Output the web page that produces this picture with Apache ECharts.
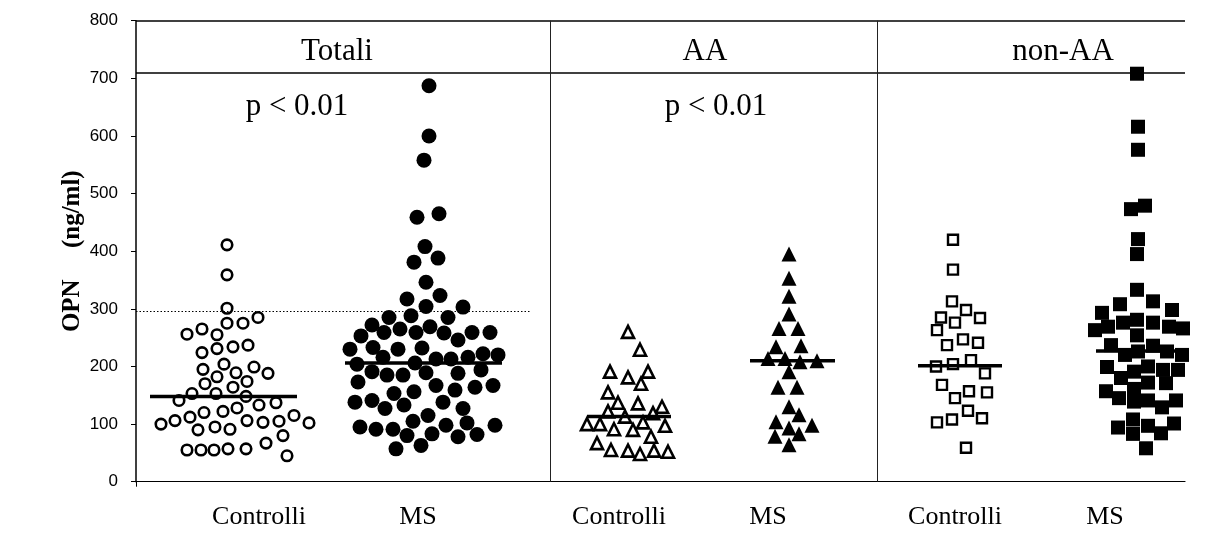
<!DOCTYPE html>
<html><head><meta charset="utf-8">
<script src="https://cdn.jsdelivr.net/npm/echarts@6/dist/echarts.min.js"></script>
<style>html,body{margin:0;padding:0;background:#fff}#c{width:1224px;height:545px}</style>
</head><body><div id="c"></div>
<script>
// ---------- data ----------
const groupLabels = ['Controlli', 'MS', 'Controlli', 'MS', 'Controlli', 'MS'];
const panelLabels = ['Totali', 'AA', 'non-AA'];
const pLabels = ['p < 0.01', 'p < 0.01'];
const yTickValues = [0, 100, 200, 300, 400, 500, 600, 700, 800];
const yTitle = 'OPN     (ng/ml)';

// Totali – Controlli (values and horizontal jitter offsets)
const ctrlTotVal = [411,359,301,275,275,285,256,265,255,224,231,234,237,195,204,182,189,199,188,170,164,174,153,153,141,148,133,137,120,122,128,100,106,112,90,95,91,106,103,105,115,102,80,67,55,55,55,57,57,45];
const ctrlTotJit = [-10,-10,-10,-10,6,21,-50,-35,-20,-35,-20,-4,11,-34,-13,-20,-1,17,31,-32,-4,10,-45,-21,-58,9,22,39,-33,-14,0,-76,-62,-47,-39,-22,-7,10,26,42,57,72,46,29,-50,-36,-23,-9,9,50];
// Totali – MS
const msTotVal = [687,600,558,459,465,408,381,388,346,317,323,304,303,288,285,285,272,253,259,265,259,269,258,246,259,259,230,233,230,232,204,216,206,213,213,216,222,220,191,185,185,189,188,194,173,153,156,167,159,164,167,138,141,127,133,138,127,115,105,95,91,91,98,102,98,80,83,78,82,57,63];
const msTotJit = [4,4,-1,-8,14,0,-11,13,1,-18,15,1,38,-14,-36,23,-53,-64,-41,-25,-9,5,19,33,47,65,-75,-52,-27,-3,-68,-42,-10,11,26,43,58,73,-53,-38,-22,1,33,56,-67,-31,-11,11,30,50,68,-70,-53,-40,-21,18,38,3,-12,-65,-49,-32,21,42,70,-18,7,33,52,-29,-4];
// AA – Controlli
const ctrlAAVal = [260,229,191,181,191,170,155,137,136,130,122,113,119,100,100,103,97,91,90,78,67,55,54,48,54,52];
const ctrlAAJit = [1,13,-17,1,21,14,-19,-9,11,35,-19,-2,26,-40,-27,16,38,-13,6,24,-30,-16,1,13,27,41];
// AA – MS
const msAAVal = [395,353,322,291,266,266,234,236,214,214,208,210,191,164,164,130,116,104,98,93,79,83,64];
const msAAJit = [0,0,0,0,-10,9,-13,12,-21,-4,11,28,0,-11,8,0,10,-13,23,0,-14,10,0];
// non-AA – Controlli
const ctrlNonVal = [420,368,313,298,285,284,276,263,247,241,237,211,200,204,188,168,157,155,145,123,108,103,110,59];
const ctrlNonJit = [-6,-6,-7,7,-18,21,-4,-22,4,19,-12,12,-23,-6,26,-17,10,28,-4,9,-7,-22,23,7];
// non-AA – MS
const msNonVal = [708,616,576,473,479,421,395,333,308,313,293,298,269,276,281,276,269,263,266,254,237,236,220,226,226,220,199,191,200,194,194,180,172,171,157,161,145,139,141,129,141,108,94,97,83,84,101,58];
const msNonJit = [-1,0,0,-7,7,0,-1,-1,-18,15,-36,34,-30,-15,-1,15,31,-43,45,-1,-27,15,-13,0,29,44,-31,-4,10,25,40,-17,10,28,-32,-4,-19,-4,10,24,38,-5,-20,10,-5,23,36,8];

const medians = [148, 206, 113, 210, 201, 227];
const cutoffValue = 295;

// ---------- layout / style constants ----------
const groupCenters = [101, 289, 491, 653, 823, 1002];   // x-axis units
const labelCenters = [123, 282, 483, 632, 819, 969];
const medianExtent = [[-87,60],[-80,77],[-40,44],[-39,46],[-41,43],[-42,47]];
const dividers = [414, 741];
const headerLine = 710;
const cutoffEnd = 394;
const panelTextPos = [[201, 746], [569, 746], [927, 746]];
const pTextPos = [[161, 650], [580, 650]];
const XMAX = 1049;

const serif = 'Liberation Serif';
const sans = 'Liberation Sans';

const groupsVal = [ctrlTotVal, msTotVal, ctrlAAVal, msAAVal, ctrlNonVal, msNonVal];
const groupsJit = [ctrlTotJit, msTotJit, ctrlAAJit, msAAJit, ctrlNonJit, msNonJit];
const symStyles = [
  {symbol:'circle', size:10.5, fill:'#fff', bw:2.6},
  {symbol:'circle', size:15, fill:'#000', bw:0},
  {symbol:'triangle', size:12, fill:'#fff', bw:2.6},
  {symbol:'triangle', size:15, fill:'#000', bw:0},
  {symbol:'rect', size:10, fill:'#fff', bw:2.4},
  {symbol:'rect', size:14, fill:'#000', bw:0}
];

const series = [];
groupsVal.forEach((vals, g) => {
  const st = symStyles[g];
  series.push({
    type: 'scatter', clip: false, silent: true, z: 3,
    symbol: st.symbol, symbolSize: st.size,
    itemStyle: {color: st.fill, borderColor: '#000', borderWidth: st.bw, opacity: 1},
    data: vals.map((v, i) => [groupCenters[g] + groupsJit[g][i], v])
  });
});
// median lines
medians.forEach((m, g) => {
  series.push({
    type: 'line', silent: true, symbol: 'none', z: 4,
    lineStyle: {color: '#000', width: 3.5},
    data: [[groupCenters[g] + medianExtent[g][0], m], [groupCenters[g] + medianExtent[g][1], m]]
  });
});
// frame lines + cutoff
const frameLine = {color:'#000', width:1.5, type:'solid'};
const divLine = {color:'#222', width:1, type:'solid'};
series.push({
  type: 'line', silent: true, symbol: 'none', data: [], z: 2,
  markLine: {
    silent: true, symbol: ['none','none'], label: {show:false},
    animation: false,
    lineStyle: {color:'#000', width:1, type:'solid'},
    emphasis: {disabled: true},
    data: [
      [{coord:[0, 800], lineStyle: frameLine}, {coord:[XMAX, 800]}],
      [{coord:[0, headerLine], lineStyle: frameLine}, {coord:[XMAX, headerLine]}],
      [{coord:[dividers[0], 0], lineStyle: divLine}, {coord:[dividers[0], 800]}],
      [{coord:[dividers[1], 0], lineStyle: divLine}, {coord:[dividers[1], 800]}],
      [{coord:[0, cutoffValue], lineStyle: {color:'#000', width:1, type:[1.5,2]}}, {coord:[cutoffEnd, cutoffValue]}]
    ]
  }
});
// texts
const textData = panelLabels.map((t, i) => ({name: t, value: panelTextPos[i]}))
  .concat(pLabels.map((t, i) => ({name: t, value: pTextPos[i]})));
series.push({
  type: 'scatter', silent: true, symbolSize: 0, clip: false, z: 5,
  itemStyle: {opacity: 1},
  data: textData,
  label: {show: true, position: 'inside', formatter: '{b}', color: '#000', fontFamily: serif, fontSize: 31}
});

const chart = echarts.init(document.getElementById('c'), null, {renderer: 'canvas'});
chart.setOption({
  animation: false,
  backgroundColor: '#fff',
  grid: {left: 136, right: 39, top: 20.7, bottom: 63.3, containLabel: false},
  xAxis: {
    type: 'value', min: 0, max: XMAX,
    splitLine: {show: false},
    axisLine: {show: true, onZero: false, lineStyle: {color: '#000', width: 1.2}},
    axisTick: {show: true, customValues: [0], length: 5, lineStyle: {color:'#000', width: 1}},
    axisLabel: {
      show: true, customValues: labelCenters, margin: 22,
      color: '#000', fontFamily: serif, fontSize: 26,
      formatter: v => { const i = labelCenters.indexOf(v); return i >= 0 ? groupLabels[i] : ''; }
    }
  },
  yAxis: {
    type: 'value', min: yTickValues[0], max: yTickValues[yTickValues.length - 1], interval: 100,
    splitLine: {show: false},
    axisLine: {show: true, lineStyle: {color: '#000', width: 1.5}},
    axisTick: {show: true, length: 5, lineStyle: {color: '#000', width: 1}},
    axisLabel: {color: '#000', fontFamily: sans, fontSize: 17, margin: 18},
    name: yTitle, nameLocation: 'middle', nameGap: 51, nameRotate: 90, nameMoveOverlap: false,
    nameTextStyle: {color: '#000', fontFamily: serif, fontSize: 25, fontWeight: 'bold'}
  },
  series: series
});
</script>
</body></html>
